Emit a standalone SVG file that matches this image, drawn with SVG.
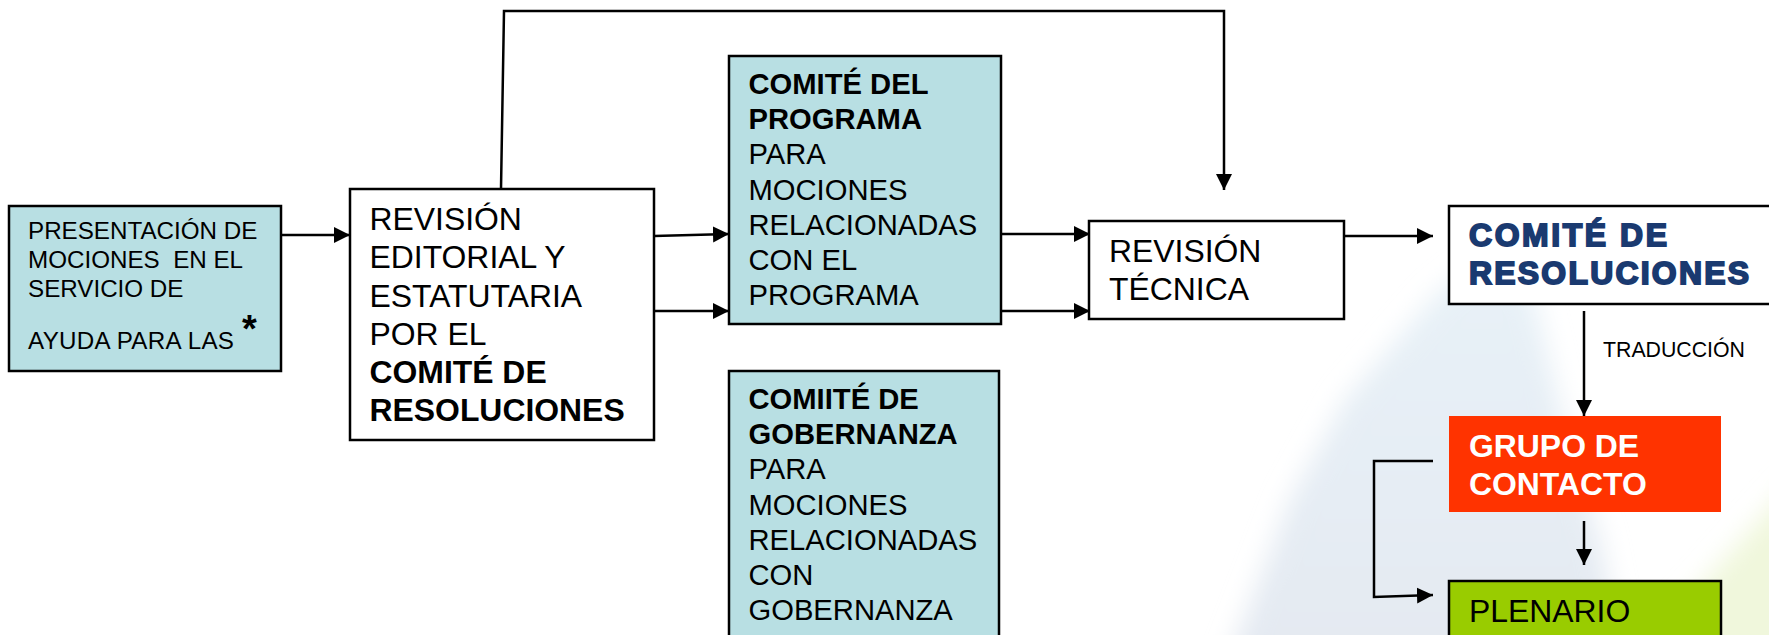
<svg xmlns="http://www.w3.org/2000/svg" width="1769" height="635" viewBox="0 0 1769 635">
<style>
text{font-family:"Liberation Sans",Arial,sans-serif;fill:#000}
.b{font-weight:700}
.box{stroke:#000;stroke-width:2.5}
.t{font-size:31.9px}
.m{font-size:29.2px}
.s{font-size:24.2px}
.n{fill:#1a3a70;stroke:#1a3a70;stroke-width:1.9px}
.c{fill:none;stroke:#000;stroke-width:2.5}
.a{marker-end:url(#arr)}
</style>
<defs>
<marker id="arr" markerUnits="userSpaceOnUse" markerWidth="18" markerHeight="18" refX="16" refY="9" orient="auto"><path d="M0 1L16 9L0 17Z" fill="#000"/></marker>
<filter id="blur" x="-20%" y="-20%" width="140%" height="140%"><feGaussianBlur stdDeviation="13"/></filter>
<linearGradient id="sky" x1="0" y1="0" x2="0" y2="1"><stop offset="0" stop-color="#e8f2f8"/><stop offset="1" stop-color="#e4e9f1"/></linearGradient>
</defs>
<rect width="1769" height="635" fill="#fff"/>
<g id="background" filter="url(#blur)">
<path d="M1500 245L1535 300L1563 420L1600 540L1625 670L1225 670L1290 500L1345 400L1436 295Z" fill="url(#sky)"/>
<path d="M1800 475L1800 670L1625 670Z" fill="#f0f7dc"/>
</g>
<g id="connectors">
<path class="c a" d="M281 235H350"/>
<path class="c a" d="M654 236L729 234"/>
<path class="c a" d="M654 311H729"/>
<path class="c a" d="M1001 234H1090"/>
<path class="c a" d="M1001 311H1090"/>
<path class="c a" d="M1344 236H1433"/>
<path class="c a" d="M501 189L504 11H1224V190"/>
<path class="c a" d="M1584 311V416"/>
<path class="c a" d="M1584 521V565"/>
<path class="c a" d="M1433 461H1374V597L1433 595"/>
</g>
<g id="presentacion">
<rect class="box" x="9" y="206" width="272" height="165" fill="#b8dfe3"/>
<text class="s" x="28" y="239">PRESENTACIÓN DE</text>
<text class="s" x="28" y="268" xml:space="preserve">MOCIONES  EN EL</text>
<text class="s" x="28" y="297">SERVICIO DE</text>
<text class="s" x="28" y="349" textLength="206">AYUDA PARA LAS</text>
<text class="b" x="242" y="342" font-size="38">*</text>
</g>
<g id="revision-editorial">
<rect class="box" x="350" y="189" width="304" height="251" fill="#fff"/>
<text class="t" x="369.5" y="230">REVISIÓN</text>
<text class="t" x="369.5" y="268">EDITORIAL Y</text>
<text class="t" x="369.5" y="307">ESTATUTARIA</text>
<text class="t" x="369.5" y="345">POR EL</text>
<text class="t b" x="369.5" y="383">COMITÉ DE</text>
<text class="t b" x="369.5" y="421">RESOLUCIONES</text>
</g>
<g id="comite-programa">
<rect class="box" x="729" y="56" width="272" height="268" fill="#b8dfe3"/>
<text class="m b" x="748.5" y="94">COMITÉ DEL</text>
<text class="m b" x="748.5" y="129">PROGRAMA</text>
<text class="m" x="748.5" y="164">PARA</text>
<text class="m" x="748.5" y="199.500">MOCIONES</text>
<text class="m" x="748.5" y="234.500">RELACIONADAS</text>
<text class="m" x="748.5" y="269.500">CON EL</text>
<text class="m" x="748.5" y="304.500">PROGRAMA</text>
</g>
<g id="comite-gobernanza">
<rect class="box" x="729" y="371" width="270" height="280" fill="#b8dfe3"/>
<text class="m b" x="748.5" y="409">COMIITÉ DE</text>
<text class="m b" x="748.5" y="444">GOBERNANZA</text>
<text class="m" x="748.5" y="479">PARA</text>
<text class="m" x="748.5" y="514.500">MOCIONES</text>
<text class="m" x="748.5" y="550">RELACIONADAS</text>
<text class="m" x="748.5" y="585">CON</text>
<text class="m" x="748.5" y="620">GOBERNANZA</text>
</g>
<g id="revision-tecnica">
<rect class="box" x="1089" y="221" width="255" height="98" fill="#fff"/>
<text class="t" x="1109" y="262">REVISIÓN</text>
<text class="t" x="1109" y="300">TÉCNICA</text>
</g>
<g id="comite-resoluciones">
<rect class="box" x="1449" y="206" width="330" height="98" fill="#fff"/>
<text class="t b n" x="1469" y="246" textLength="198">COMITÉ DE</text>
<text class="t b n" x="1469" y="284" textLength="280">RESOLUCIONES</text>
</g>
<g id="traduccion"><text x="1603" y="357" font-size="21.300">TRADUCCIÓN</text></g>
<g id="grupo-contacto">
<rect x="1449" y="416" width="272" height="96" fill="#ff3300"/>
<text class="t b" x="1469" y="456.500" style="fill:#fff">GRUPO DE</text>
<text class="t b" x="1469" y="494.500" style="fill:#fff">CONTACTO</text>
</g>
<g id="plenario">
<rect class="box" x="1449" y="581" width="272" height="70" fill="#99cc00"/>
<text class="t" x="1469" y="621.500">PLENARIO</text>
</g>
</svg>
